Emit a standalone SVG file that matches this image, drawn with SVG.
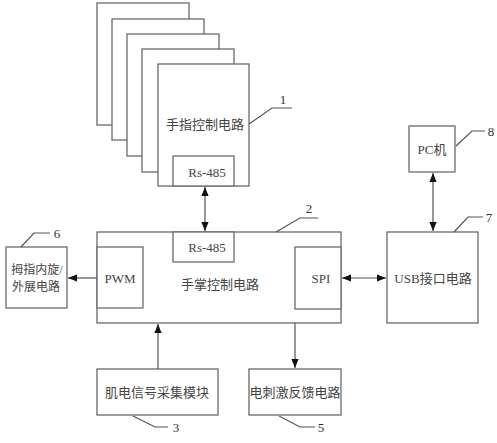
<svg xmlns="http://www.w3.org/2000/svg" width="497" height="443" viewBox="0 0 497 443">
<defs>
<style>
.b{fill:#fff;stroke:#6a6a6a;stroke-width:1.3}
.l{fill:none;stroke:#555;stroke-width:1.2}
.t{font-family:"Liberation Serif","Noto Sans CJK SC",serif;font-size:13px;fill:#444;text-anchor:middle}
.s{font-size:12px}
.n{font-family:"Liberation Serif",serif;font-size:13px;fill:#333;text-anchor:middle}
</style>
<marker id="a" viewBox="0 0 10 10" refX="10" refY="5" markerWidth="9" markerHeight="9" markerUnits="userSpaceOnUse" orient="auto-start-reverse">
<path d="M0,1 L10,5 L0,9 Z" fill="#111"/>
</marker>
</defs>
<rect width="497" height="443" fill="#fff"/>
<g id="finger-stack">
<rect class="b" x="97" y="3" width="92" height="122"/>
<rect class="b" x="112" y="19" width="92" height="121"/>
<rect class="b" x="127" y="34" width="92" height="122"/>
<rect class="b" x="142" y="49" width="92" height="123"/>
</g>
<g id="finger">
<rect class="b" x="158" y="64" width="91" height="122"/>
<text class="t" x="205" y="129">手指控制电路</text>
<rect class="b" x="173" y="156" width="61" height="30"/>
<text class="t" x="207" y="177">Rs-485</text>
</g>
<g id="palm">
<rect class="b" x="97" y="232" width="244" height="91"/>
<rect class="b" x="173" y="232" width="61" height="30"/>
<text class="t" x="207" y="252">Rs-485</text>
<rect class="b" x="97" y="247" width="46" height="61"/>
<text class="t" x="120" y="283">PWM</text>
<rect class="b" x="295" y="247" width="46" height="62"/>
<text class="t" x="321" y="283">SPI</text>
<text class="t" x="220" y="289">手掌控制电路</text>
</g>
<g id="thumb">
<rect class="b" x="6" y="247" width="61" height="61"/>
<text class="t s" x="37" y="274">拇指内旋/</text>
<text class="t s" x="36" y="291">外展电路</text>
</g>
<g id="usb">
<rect class="b" x="387" y="232" width="91" height="91"/>
<text class="t" x="433" y="283">USB接口电路</text>
</g>
<g id="pc">
<rect class="b" x="409" y="126" width="46" height="46"/>
<text class="t" x="432" y="154">PC机</text>
</g>
<g id="emg">
<rect class="b" x="97" y="369" width="121" height="46"/>
<text class="t" x="157" y="397">肌电信号采集模块</text>
</g>
<g id="stim">
<rect class="b" x="249" y="369" width="92" height="46"/>
<text class="t" x="295" y="397">电刺激反馈电路</text>
</g>
<g id="connectors">
<line class="l" x1="205" y1="187" x2="205" y2="231" marker-start="url(#a)" marker-end="url(#a)"/>
<line class="l" x1="97" y1="278" x2="68" y2="278" marker-end="url(#a)"/>
<line class="l" x1="342" y1="278" x2="386" y2="278" marker-start="url(#a)" marker-end="url(#a)"/>
<line class="l" x1="433" y1="173" x2="433" y2="231" marker-start="url(#a)" marker-end="url(#a)"/>
<line class="l" x1="158" y1="369" x2="158" y2="324" marker-end="url(#a)"/>
<line class="l" x1="295" y1="323" x2="295" y2="368" marker-end="url(#a)"/>
</g>
<g id="labels">
<polyline class="l" points="249,124 272,108 292,108"/>
<text class="n" x="283" y="104">1</text>
<polyline class="l" points="276,232 300,218 318,218"/>
<text class="n" x="309" y="213">2</text>
<polyline class="l" points="133,416 155,427 168,427"/>
<text class="n" x="176" y="432">3</text>
<polyline class="l" points="279,416 300,427 315,427"/>
<text class="n" x="321" y="432">5</text>
<polyline class="l" points="21,247 34,233 50,233"/>
<text class="n" x="57" y="238">6</text>
<polyline class="l" points="454,232 468,217 483,217"/>
<text class="n" x="489" y="222">7</text>
<polyline class="l" points="456,146 472,131 485,131"/>
<text class="n" x="491" y="136">8</text>
</g>
</svg>
